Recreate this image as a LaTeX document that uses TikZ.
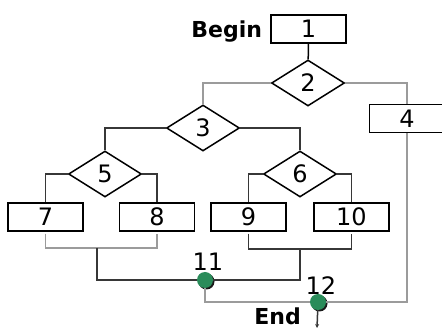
\documentclass[tikz,border=0pt]{standalone}
\usepackage{fontspec}
\setmainfont{DejaVu Sans}
\usetikzlibrary{shapes.geometric,shadows,arrows.meta}
\begin{document}
\begin{tikzpicture}[x=1pt,y=1pt,
	blockbox/.style={draw=black,line width=1.5pt,minimum width=75pt,minimum height=28pt,inner sep=0pt,font=\fontsize{24}{26}\selectfont},
	decision/.style={diamond,draw=black,line width=1.5pt,minimum width=73pt,minimum height=46pt,inner sep=0pt,font=\fontsize{24}{26}\selectfont},
	junction/.style={circle,fill=juncColor,minimum size=16pt,inner sep=0pt,
		drop shadow={shadow xshift=1.5pt,shadow yshift=-1.5pt,fill=black,opacity=0.9}},
	numtag/.style={inner sep=0pt,font=\fontsize{24}{26}\selectfont},
	tag/.style={inner sep=0pt,font=\bfseries\fontsize{22}{24}\selectfont},
	darkline/.style={draw=darkColor,line width=1.5pt},
	grayline/.style={draw=grayColor,line width=1.5pt}]
\definecolor{fillColor}{RGB}{255,255,255}
\definecolor{juncColor}{RGB}{42,140,90}
\definecolor{darkColor}{RGB}{55,55,55}
\definecolor{grayColor}{RGB}{155,155,155}
\path[use as bounding box,fill=fillColor] (0,0) rectangle (442,329);

\node[blockbox] (b1) at (308.5,300) {1};
\node[decision] (d2) at (308,246) {2};
\node[decision] (d3) at (203,201) {3};
\node[blockbox] (b4) at (407,210.5) {4};
\node[decision] (d5) at (105,155) {5};
\node[decision] (d6) at (300,155) {6};
\node[blockbox] (b7) at (45.5,112) {7};
\node[blockbox] (b8) at (157,112) {8};
\node[blockbox] (b9) at (248.5,112) {9};
\node[blockbox] (b10) at (351.5,112) {10};
\coordinate (j78) at (97,81);
\coordinate (j910) at (300,80);
\node[junction,label={[numtag,xshift=3pt,label distance=1pt]above:11}] (n11) at (205,49) {};
\node[junction,label={[numtag,xshift=3pt,label distance=-1pt]above:12}] (n12) at (318,27) {};
\coordinate (stop) at (317,1);

\node[tag,anchor=base east] (begin) at ([xshift=-8pt]b1.base west) {Begin};
\node[tag,anchor=base east] (end) at (301,4) {End};

\draw[line width=1.5pt] (b1) -- (d2);
\draw[grayline] (d2.west) -| (d3.north);
\draw[grayline] (d2.east) -| (b4.north);
\draw[darkline] (d3.west) -| (d5.north);
\draw[darkline] (d3.east) -| (d6.north);
\draw[darkline] (d5.west) -| (b7.north);
\draw[darkline] (d5.east) -| (b8.north);
\draw[darkline] (d6.west) -| (b9.north);
\draw[darkline] (d6.east) -| (b10.north);

\draw[grayline,shorten <=2pt,shorten >=2pt] (b7.south) |- (j78) -| (b8.south);
\draw[darkline,shorten <=2pt,shorten >=2pt] (b9.south) |- (j910) -| (b10.south);
\draw[darkline] (j78) |- (n11);
\draw[darkline] (j910) |- (n11);
\draw[grayline] (n11) |- (n12);
\draw[grayline] (b4.south) |- (n12);
\draw[darkline,-{Stealth[length=4pt,width=4pt]}] (n12) -- (stop);
\end{tikzpicture}
\end{document}
